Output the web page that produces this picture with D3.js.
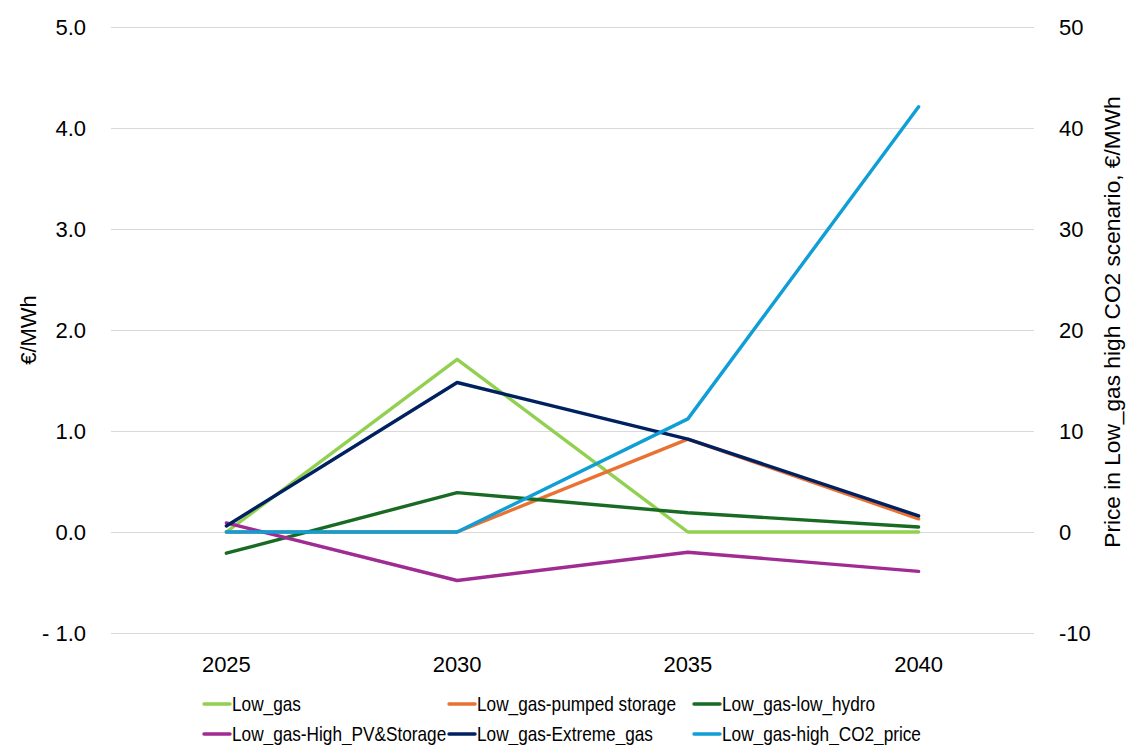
<!DOCTYPE html>
<html><head><meta charset="utf-8">
<script src="https://cdn.jsdelivr.net/npm/d3@7"></script>
<style>
html,body{margin:0;padding:0;background:#fff;}
svg{display:block;}
.tick-l,.tick-r,.tick-x,.title,.leg{font-family:"Liberation Sans",Arial,sans-serif;fill:#000;}
</style></head>
<body>
<script>
const years = ["2025","2030","2035","2040"];
const seriesNames = ["Low_gas","Low_gas-pumped storage","Low_gas-low_hydro","Low_gas-High_PV&Storage","Low_gas-Extreme_gas","Low_gas-high_CO2_price"];
const lowGas        = [0.00, 1.71, 0.00, 0.00];
const pumpedStorage = [0.00, 0.00, 0.92, 0.13];
const lowHydro      = [-0.21, 0.39, 0.19, 0.05];
const highPVStorage = [0.09, -0.48, -0.20, -0.39];
const extremeGas    = [0.06, 1.48, 0.92, 0.16];
const highCO2Price  = [0.0, 0.0, 11.2, 42.1];   // secondary axis
const leftTicks  = [-1, 0, 1, 2, 3, 4, 5];
const rightTicks = [-10, 0, 10, 20, 30, 40, 50];
const colors = ["#92D050","#E97132","#196B24","#A02B93","#002060","#0F9ED5"];

const W = 1126, H = 745;
const svg = d3.select("body").append("svg").attr("width", W).attr("height", H);

const x = d3.scalePoint().domain(years).range([111, 1034]).padding(0.5);
const yL = d3.scaleLinear().domain([-1, 5]).range([633, 27]);
const yR = d3.scaleLinear().domain([-10, 50]).range([633, 27]);

// gridlines
svg.append("g").selectAll("line").data(leftTicks).join("line")
  .attr("x1", 111).attr("x2", 1034)
  .attr("y1", d => Math.round(yL(d)) + 0.5).attr("y2", d => Math.round(yL(d)) + 0.5)
  .attr("stroke", "#D9D9D9").attr("stroke-width", 1);

// left ticks
const fmtL = d => d < 0 ? "- " + d3.format(".1f")(-d) : d3.format(".1f")(d);
svg.append("g").selectAll("text").data(leftTicks).join("text")
  .attr("class","tick-l").attr("x", 86).attr("y", d => yL(d))
  .attr("dy","0.35em").attr("text-anchor","end").attr("font-size", 22)
  .text(fmtL);

// right ticks
svg.append("g").selectAll("text").data(rightTicks).join("text")
  .attr("class","tick-r").attr("x", 1059).attr("y", d => yR(d))
  .attr("dy","0.35em").attr("text-anchor","start").attr("font-size", 22)
  .text(d => d);

// x labels
svg.append("g").selectAll("text").data(years).join("text")
  .attr("class","tick-x").attr("x", d => x(d)).attr("y", 672)
  .attr("text-anchor","middle").attr("font-size", 22)
  .text(d => d);

// axis titles
svg.append("text").attr("class","title").attr("font-size", 22)
  .attr("transform","translate(36,330) rotate(-90)").attr("text-anchor","middle")
  .text("€/MWh");
svg.append("text").attr("class","title").attr("font-size", 22.7)
  .attr("transform","translate(1120,322) rotate(-90)").attr("text-anchor","middle")
  .text("Price in Low_gas high CO2 scenario, €/MWh");

// lines
const primary = [lowGas, pumpedStorage, lowHydro, highPVStorage, extremeGas];
const lineL = d3.line().x((d,i) => x(years[i])).y(d => yL(d));
const lineR = d3.line().x((d,i) => x(years[i])).y(d => yR(d));
const gLines = svg.append("g").attr("fill","none").attr("stroke-width", 3.4)
  .attr("stroke-linejoin","round").attr("stroke-linecap","round");
primary.forEach((vals, k) => {
  gLines.append("path").attr("d", lineL(vals)).attr("stroke", colors[k]);
});
gLines.append("path").attr("d", lineR(highCO2Price)).attr("stroke", colors[5]);

// legend
const legCols = [204, 449, 694];
const legRows = [704, 734];
const leg = svg.append("g");
seriesNames.forEach((name, i) => {
  const cx = legCols[i % 3], cy = legRows[Math.floor(i / 3)];
  leg.append("line").attr("x1", cx).attr("x2", cx + 26).attr("y1", cy).attr("y2", cy)
    .attr("stroke", colors[i]).attr("stroke-width", 3.4).attr("stroke-linecap","round");
  leg.append("text").attr("class","leg")
    .attr("transform", `translate(${cx + 28},${cy}) scale(0.82,1)`)
    .attr("dy","0.35em").attr("font-size", 21).text(name);
});
</script>
</body></html>
